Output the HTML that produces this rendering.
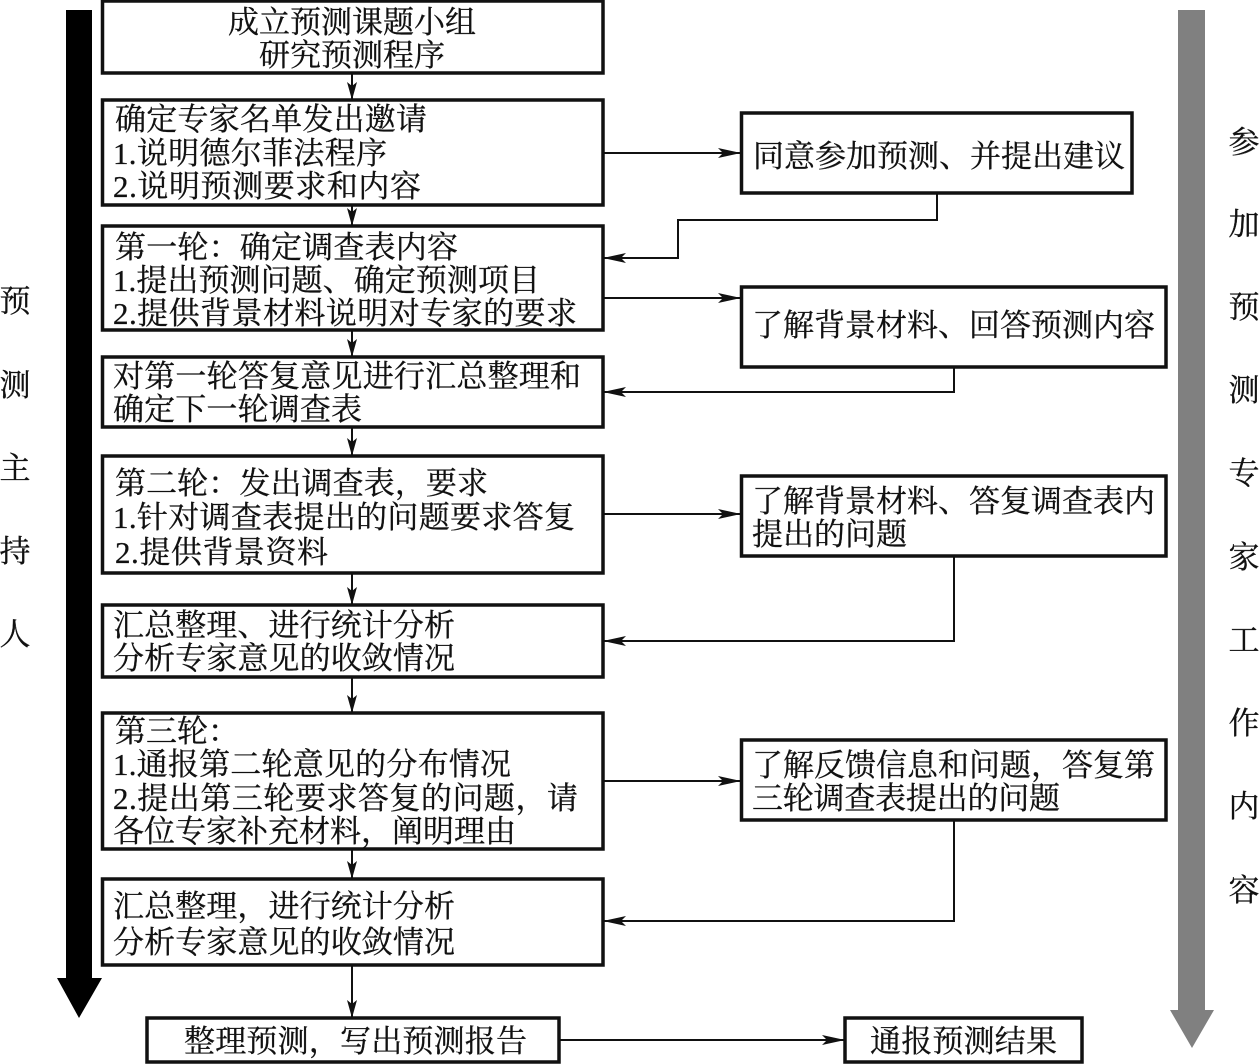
<!DOCTYPE html>
<html>
<head>
<meta charset="utf-8">
<style>
html,body{margin:0;padding:0;background:#fff}
svg{display:block}
text{font-family:"Liberation Serif","Noto Serif CJK SC",serif;font-size:31px;fill:#111;stroke:#111;stroke-width:.3}
.b{fill:#fff;stroke:#111;stroke-width:3.5}
.l{fill:none;stroke:#111;stroke-width:2}
.a{fill:#111;stroke:none}
</style>
</head>
<body>
<svg width="1260" height="1064" viewBox="0 0 1260 1064" xmlns="http://www.w3.org/2000/svg">
<rect width="1260" height="1064" fill="#fff"/>

<!-- side arrows -->
<polygon points="66,10 92,10 92,978 102,978 79,1018 57,978 66,978" fill="#000"/>
<polygon points="1178,10 1205,10 1205,1010 1214,1010 1192,1048 1170,1010 1178,1010" fill="#808080"/>

<!-- connectors -->
<path class="l" d="M352 73V100M352 205V226M352 330V357M352 427V456M352 573V605M352 677V713M352 849V879M352 965V1018"/>
<path class="l" d="M603 153H741M937 193V220H678V258H603M603 298H741M954 367V392H603M603 514H741M954 556V641H603M603 781H741M954 820V921H603M559 1040H845"/>

<!-- arrowheads: down -->
<polygon class="a" points="352,100 347,82 352,86 357,82"/>
<polygon class="a" points="352,226 347,208 352,212 357,208"/>
<polygon class="a" points="352,357 347,339 352,343 357,339"/>
<polygon class="a" points="352,456 347,438 352,442 357,438"/>
<polygon class="a" points="352,605 347,587 352,591 357,587"/>
<polygon class="a" points="352,713 347,695 352,699 357,695"/>
<polygon class="a" points="352,879 347,861 352,865 357,861"/>
<polygon class="a" points="352,1018 347,1000 352,1004 357,1000"/>
<!-- right -->
<polygon class="a" points="741,153 718,148 723,153 718,158"/>
<polygon class="a" points="741,298 718,293 723,298 718,303"/>
<polygon class="a" points="741,514 718,509 723,514 718,519"/>
<polygon class="a" points="741,781 718,776 723,781 718,786"/>
<polygon class="a" points="845,1040 822,1035 827,1040 822,1045"/>
<!-- left -->
<polygon class="a" points="603,258 626,253 621,258 626,263"/>
<polygon class="a" points="603,392 626,387 621,392 626,397"/>
<polygon class="a" points="603,641 626,636 621,641 626,646"/>
<polygon class="a" points="603,921 626,916 621,921 626,926"/>

<!-- boxes -->
<rect class="b" x="102.5" y="1" width="500.5" height="72"/>
<rect class="b" x="102.5" y="100" width="500.5" height="105"/>
<rect class="b" x="102.5" y="226" width="500.5" height="104"/>
<rect class="b" x="102.5" y="357" width="500.5" height="70"/>
<rect class="b" x="102.5" y="456" width="500.5" height="117"/>
<rect class="b" x="102.5" y="605" width="500.5" height="72"/>
<rect class="b" x="102.5" y="713" width="500.5" height="136"/>
<rect class="b" x="102.5" y="879" width="500.5" height="86"/>
<rect class="b" x="147" y="1018" width="412" height="44"/>
<rect class="b" x="741.5" y="113" width="390.5" height="80"/>
<rect class="b" x="741.5" y="287" width="424.5" height="80"/>
<rect class="b" x="741.5" y="476" width="424.5" height="80"/>
<rect class="b" x="741.5" y="740" width="424.5" height="80"/>
<rect class="b" x="845" y="1018" width="237" height="44"/>

<!-- box text -->
<text x="228" y="33" textLength="248">成立预测课题小组</text>
<text x="259" y="66" textLength="186">研究预测程序</text>

<text x="115" y="130" textLength="312">确定专家名单发出邀请</text>
<text x="113" y="164" textLength="274">1.说明德尔菲法程序</text>
<text x="113" y="197" textLength="308">2.说明预测要求和内容</text>

<text x="115" y="258" textLength="343">第一轮：确定调查表内容</text>
<text x="113" y="291" textLength="427">1.提出预测问题、确定预测项目</text>
<text x="113" y="324" textLength="464">2.提供背景材料说明对专家的要求</text>

<text x="113" y="387" textLength="468">对第一轮答复意见进行汇总整理和</text>
<text x="113" y="420" textLength="249">确定下一轮调查表</text>

<text x="115" y="494" textLength="373">第二轮：发出调查表，要求</text>
<text x="113" y="528" textLength="462">1.针对调查表提出的问题要求答复</text>
<text x="115" y="563" textLength="213">2.提供背景资料</text>

<text x="113" y="636" textLength="342">汇总整理、进行统计分析</text>
<text x="113" y="669" textLength="342">分析专家意见的收敛情况</text>

<text x="115" y="742" textLength="124">第三轮：</text>
<text x="113" y="775" textLength="398">1.通报第二轮意见的分布情况</text>
<text x="113" y="809" textLength="465">2.提出第三轮要求答复的问题，请</text>
<text x="113" y="842" textLength="403">各位专家补充材料，阐明理由</text>

<text x="113" y="917" textLength="342">汇总整理，进行统计分析</text>
<text x="113" y="953" textLength="342">分析专家意见的收敛情况</text>

<text x="184" y="1052" textLength="343">整理预测，写出预测报告</text>
<text x="870" y="1052" textLength="187">通报预测结果</text>

<text x="753" y="167" textLength="372">同意参加预测、并提出建议</text>
<text x="752" y="336" textLength="403">了解背景材料、回答预测内容</text>
<text x="752" y="512" textLength="403">了解背景材料、答复调查表内</text>
<text x="752" y="545" textLength="155">提出的问题</text>
<text x="752" y="776" textLength="403">了解反馈信息和问题，答复第</text>
<text x="752" y="809" textLength="308">三轮调查表提出的问题</text>

<!-- side labels -->
<g text-anchor="middle">
<text x="15" y="312">预</text>
<text x="15" y="396">测</text>
<text x="15" y="479">主</text>
<text x="15" y="562">持</text>
<text x="15" y="645">人</text>
<text x="1244" y="153">参</text>
<text x="1244" y="235">加</text>
<text x="1244" y="318">预</text>
<text x="1244" y="401">测</text>
<text x="1244" y="484">专</text>
<text x="1244" y="568">家</text>
<text x="1244" y="651">工</text>
<text x="1244" y="734">作</text>
<text x="1244" y="817">内</text>
<text x="1244" y="901">容</text>
</g>
</svg>
</body>
</html>
